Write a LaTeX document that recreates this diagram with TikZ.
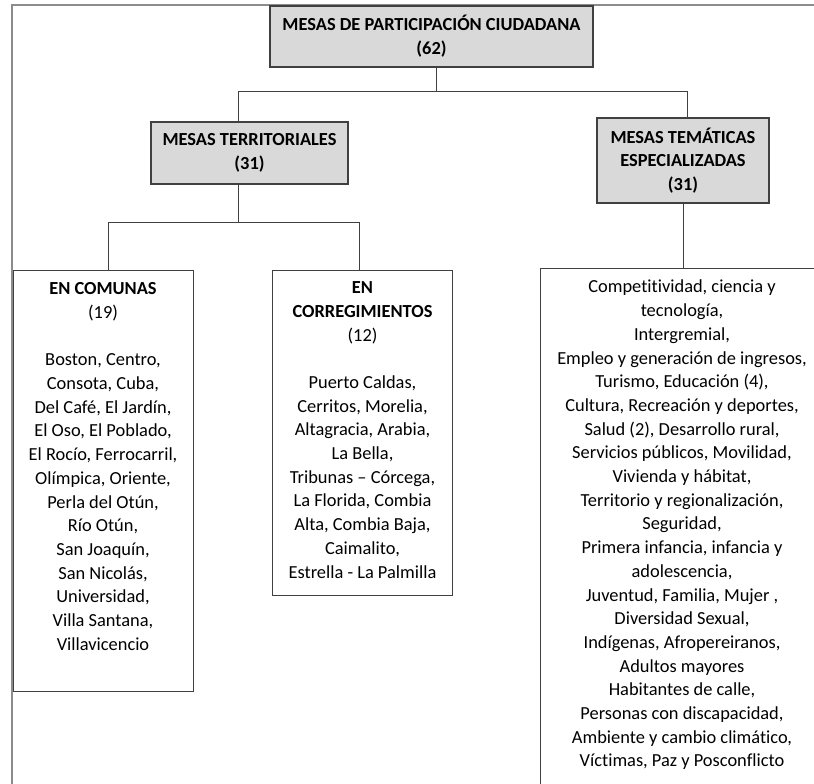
\documentclass[tikz,border=0pt]{standalone}
\usepackage{fontspec}
\setmainfont{Carlito}[Ligatures=NoCommon]
\usetikzlibrary{positioning}
\definecolor{boxgray}{HTML}{D9D9D9}
\definecolor{linegray}{HTML}{404040}
\definecolor{framegray}{HTML}{8C8C8C}
\begin{document}
\begin{tikzpicture}[x=1pt,y=-1pt,
    txt/.style={font=\fontsize{18.4}{23.7}\selectfont, align=center, text=black, inner sep=0pt},
    headbox/.style={txt, draw=linegray, line width=1.3pt, fill=boxgray, font=\fontsize{18.4}{23.7}\selectfont\bfseries},
    listbox/.style={draw=linegray, line width=1pt, inner sep=0pt},
    link/.style={draw=linegray, line width=1pt}]
    \useasboundingbox (0,0) rectangle (814,784);
    \clip (0,0) rectangle (814,784);

    % page frame
    \draw[framegray, line width=2.5pt] (814,5) -- (12,5) -- (12,784);

    % top level
    \node[headbox, minimum width=323pt, minimum height=61pt] (root) at (431.5,36.5) {MESAS DE PARTICIPACIÓN CIUDADANA\\(62)};

    % second level
    \node[headbox, minimum width=197pt, minimum height=62pt] (terr) at (249.5,153) {MESAS TERRITORIALES\\(31)};
    \node[headbox, minimum width=172pt, minimum height=85pt] (tema) at (683,160.5) {MESAS TEMÁTICAS\\ESPECIALIZADAS\\(31)};

    % list boxes
    \node[listbox, minimum width=180pt, minimum height=421pt] (comunas) at (103,480.5) {};
    \node[listbox, minimum width=180pt, minimum height=325pt] (correg) at (362.5,432.5) {};
    \node[listbox, minimum width=284pt, minimum height=532pt] (lista) at (682,534) {};

    \node[txt, below=13pt of comunas.north] (comunastxt) {\textbf{EN COMUNAS}\\(19)\\[23.7pt]
        Boston, Centro,\\Consota, Cuba,\\Del Café, El Jardín,\\El Oso, El Poblado,\\El Rocío, Ferrocarril,\\
        Olímpica, Oriente,\\Perla del Otún,\\Río Otún,\\San Joaquín,\\San Nicolás,\\Universidad,\\
        Villa Santana,\\Villavicencio};
    \node[txt, below=12pt of correg.north] (corregtxt) {\textbf{EN}\\\textbf{CORREGIMIENTOS}\\(12)\\[23.7pt]
        Puerto Caldas,\\Cerritos, Morelia,\\Altagracia, Arabia,\\La Bella,\\Tribunas – Córcega,\\
        La Florida, Combia\\Alta, Combia Baja,\\Caimalito,\\Estrella - La Palmilla};
    \node[txt, below=12.5pt of lista.north] (listatxt) {Competitividad, ciencia y\\tecnología,\\Intergremial,\\
        Empleo y generación de ingresos,\\Turismo, Educación (4),\\Cultura, Recreación y deportes,\\
        Salud (2), Desarrollo rural,\\Servicios públicos, Movilidad,\\Vivienda y hábitat,\\
        Territorio y regionalización,\\Seguridad,\\Primera infancia, infancia y\\adolescencia,\\
        Juventud, Familia, Mujer ,\\Diversidad Sexual,\\Indígenas, Afropereiranos,\\Adultos mayores\\
        Habitantes de calle,\\Personas con discapacidad,\\Ambiente y cambio climático,\\
        Víctimas, Paz y Posconflicto};

    % connectors
    \draw[link] ([xshift=4.5pt]root.south) -- ++(0,24) -| ([xshift=-11.5pt]terr.north);
    \draw[link] ([xshift=4.5pt]root.south) -- ++(0,24) -| ([xshift=4pt]tema.north);
    \draw[link] ([xshift=-11.5pt]terr.south) -- ++(0,38) -| ([xshift=5pt]comunas.north);
    \draw[link] ([xshift=-11.5pt]terr.south) -- ++(0,38) -| ([xshift=-3.5pt]correg.north);
    \draw[link] (tema.south) -- (tema.south |- lista.north);
\end{tikzpicture}
\end{document}
